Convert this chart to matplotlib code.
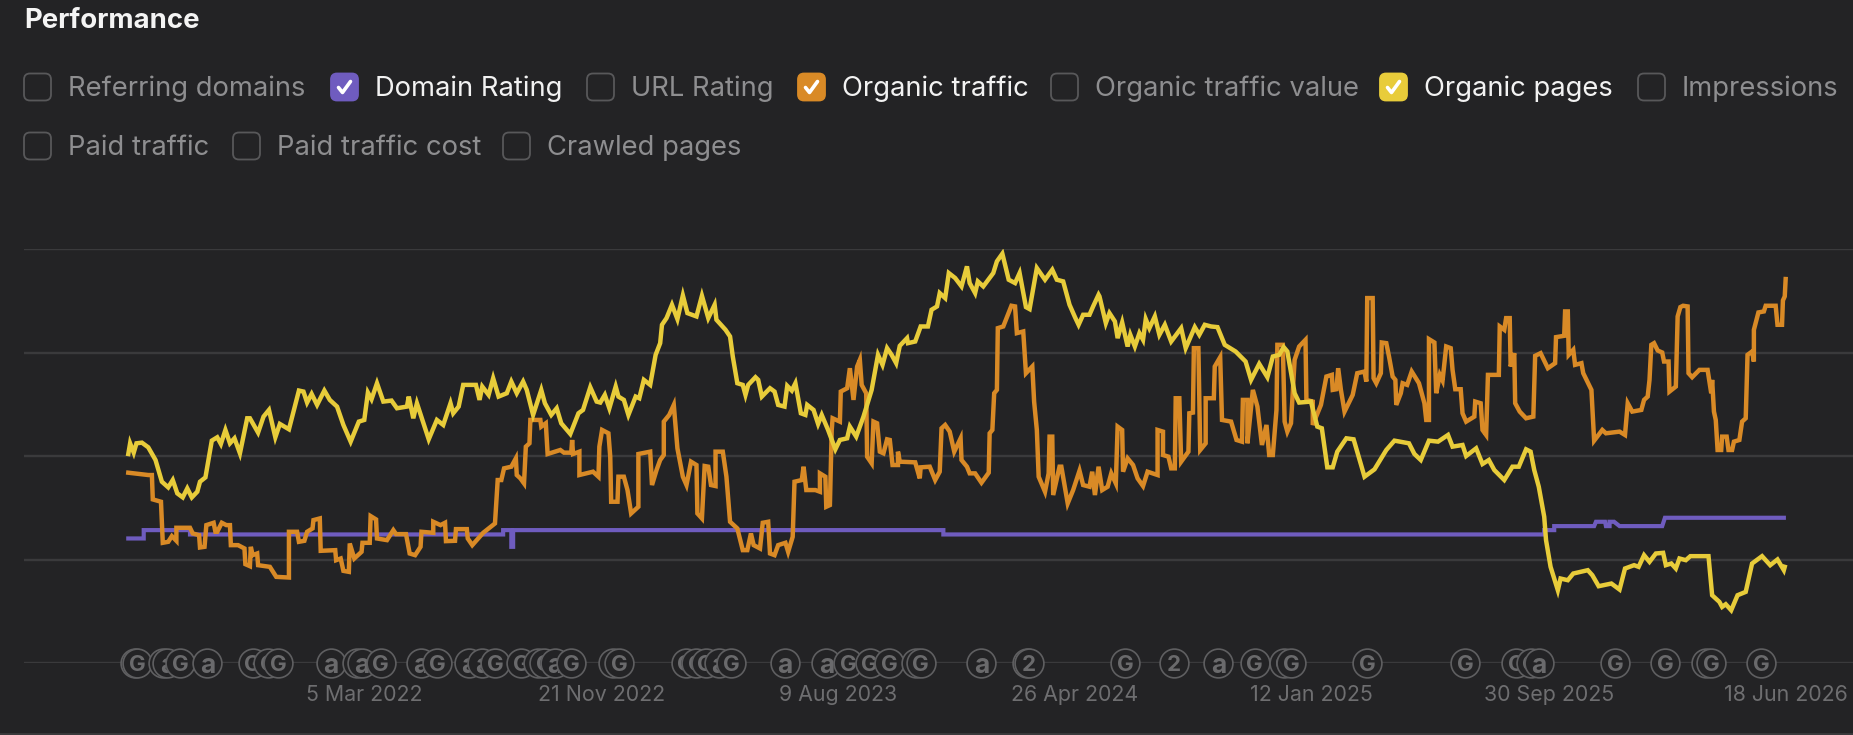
import matplotlib
matplotlib.use("Agg")
import matplotlib.pyplot as plt
import pandas as pd
from matplotlib.patches import FancyBboxPatch

plt.rcParams["font.family"] = ["Inter", "DejaVu Sans"]

BG = "#232325"
GRID = "#3a3a3c"
PURPLE = "#6f5cbf"
ORANGE = "#d98a26"
YELLOW = "#e8cc3a"

start_date = pd.Timestamp("2021-06-18")
tick_dates = ["2022-03-05", "2022-11-21", "2023-08-09", "2024-04-26", "2025-01-12", "2025-09-30", "2026-06-18"]
tick_labels = ["5 Mar 2022", "21 Nov 2022", "9 Aug 2023", "26 Apr 2024", "12 Jan 2025", "30 Sep 2025", "18 Jun 2026"]

# no y labels in the chart, so values are just relative units (310 = one gridline)
grid_values = [0, 310, 620, 930, 1240]

rating_days = [0, 17, 17, 68, 68, 413, 413, 422, 422, 424, 424, 898, 898, 1560, 1560, 1571, 1571, 1615, 1617, 1627,
               1628, 1632, 1632, 1637, 1643, 1690, 1693, 1824]
rating_vals = [373, 373, 398, 398, 385, 385, 398, 398, 348, 348, 398, 398, 385, 385, 398, 398, 410, 410, 423, 423,
               410, 410, 423, 423, 410, 410, 435, 435]

pages_days = [0, 2, 6, 9, 15, 22, 30, 37, 44, 49, 54, 60, 65, 70, 76, 79, 85, 92, 98, 102, 107, 112, 117, 123, 131,
              134, 143, 149, 155, 162, 167, 177, 182, 188, 193, 197, 202, 208, 216, 222, 230, 237, 245, 254, 260,
              264, 268, 274, 281, 290, 296, 307, 309, 314, 318, 331, 340, 347, 355, 358, 364, 369, 383, 387, 390,
              397, 402, 408, 417, 422, 428, 435, 439, 446, 455, 459, 466, 472, 477, 487, 496, 501, 509, 516,
              520, 525, 530, 537, 540, 546, 551, 559, 563, 568, 575, 581, 586, 588, 593, 599, 605, 611, 616, 626,
              632, 639, 646, 648, 658, 663, 666, 671, 677, 680, 683, 691, 694, 698, 707, 712, 716, 723, 726, 731,
              735, 741, 746, 748, 755, 760, 764, 771, 779, 784, 792, 795, 802, 810, 819, 826, 831, 836, 841, 846,
              850, 858, 859, 867, 873, 881, 885, 891, 894, 900, 904, 911, 918, 924, 927, 933, 936, 942, 953, 957,
              963, 970, 977, 982, 989, 993, 1001, 1010, 1018, 1023, 1030, 1037, 1043, 1047, 1052, 1059, 1063, 1069,
              1070, 1077, 1081, 1087, 1090, 1095, 1101, 1104, 1109, 1114, 1118, 1121, 1125, 1131, 1136, 1142, 1149,
              1160, 1165, 1175, 1180, 1186, 1193, 1200, 1208, 1220, 1231, 1237, 1246, 1255, 1261, 1268, 1273, 1277,
              1285, 1290, 1303, 1310, 1315, 1321, 1327, 1332, 1342, 1350, 1362, 1373, 1386, 1395, 1411, 1417, 1424,
              1433, 1443, 1454, 1459, 1470, 1474, 1485, 1492, 1499, 1505, 1516, 1525, 1532, 1540, 1545, 1549, 1554,
              1560, 1562, 1567, 1575, 1578, 1586, 1592, 1608, 1613, 1620, 1634, 1643, 1649, 1659, 1664, 1670, 1676,
              1683, 1691, 1694, 1700, 1705, 1709, 1716, 1721, 1741, 1745, 1753, 1756, 1760, 1766, 1773, 1782, 1789,
              1800, 1809, 1817, 1824, 1825]
pages_vals = [626, 658, 630, 658, 660, 646, 608, 543, 526, 548, 508, 496, 523, 496, 513, 543, 556, 666, 676, 656, 698,
              658, 673, 628, 733, 733, 690, 738, 758, 676, 716, 700, 753, 816, 813, 780, 806, 773, 816, 788, 768,
              713, 663, 723, 728, 810, 790, 838, 783, 786, 763, 768, 798, 733, 778, 670, 728, 713, 778, 748, 768,
              833, 833, 788, 828, 803, 853, 798, 808, 843, 808, 843, 818, 743, 818, 778, 743, 763, 718, 686, 748,
              758, 826, 783,
              780, 803, 763, 828, 798, 788, 743, 798, 793, 848, 833, 923, 958, 1013, 1033, 1073, 1030, 1101, 1048,
              1038, 1100, 1033, 1073, 1028, 998, 978, 918, 838, 833, 803, 833, 856, 848, 798, 823, 813, 773, 768,
              830, 816, 838, 748, 743, 773, 758, 716, 743, 698, 640, 668, 673, 708, 678, 738, 818, 923, 893, 943,
              923, 898, 950, 973, 958, 963, 1008, 1008, 1058, 1068, 1108, 1093, 1168, 1153, 1128, 1188, 1138, 1108,
              1143, 1128, 1168, 1203, 1226, 1148, 1138, 1168, 1066, 1060, 1183, 1148, 1178, 1148, 1143, 1073, 1036,
              1013, 1043, 1043, 1068, 1103,
              1098, 1018, 1048, 1023, 973, 1020, 948, 983, 948, 988, 968, 1030, 1003, 1038, 983, 1013, 963, 1003,
              943, 1006, 983, 1013, 1008, 1006, 953, 933, 903, 848, 896, 856, 918, 923, 946, 933, 808, 780, 783,
              708, 703, 586, 586, 633, 673, 670, 558, 580, 638, 666, 658, 626, 608, 666, 663, 683, 648, 653, 620,
              643, 596, 608, 578, 548, 588, 588, 640, 633, 578, 528,
              438, 368, 288, 218, 253, 248, 268, 278, 263, 230, 238, 220, 283, 293, 288, 323, 303, 328, 330, 293,
              298, 283, 313, 308, 320, 320, 203, 183, 168, 176, 158, 203, 213, 298, 320, 293, 310, 278, 288]

traffic_days = [0, 22, 26, 27, 36, 38, 44, 48, 53, 53, 68, 71, 78, 79, 84, 86, 94, 96, 98, 103, 108, 112, 113, 121, 128,
                129, 134, 135, 137, 142, 143, 156, 163, 177, 177, 186, 188, 194, 197, 203, 204, 211, 212, 228, 229,
                234, 237, 243, 244, 249, 257, 258, 266, 267, 273, 274, 285, 292, 295, 306, 310, 316, 322, 323, 336,
                336, 344, 349, 350, 360, 361, 373, 374, 379, 391, 404, 407, 411, 414, 422, 427, 428, 432, 436, 438,
                442, 443, 454, 455, 460, 462, 476, 480, 488, 489, 490, 497, 497, 512, 518, 519,
                522, 529, 531, 532, 539, 540, 546, 550, 554, 562, 562, 575, 577, 582, 586, 590, 590, 596, 601, 605,
                611, 615, 620, 626, 627, 632, 635, 639, 642, 647, 647, 655, 659, 663, 671, 677, 682, 686, 689, 696,
                699, 705, 707, 712, 716, 724, 727, 732, 734, 742, 744, 747, 757, 762, 762, 768, 769, 773, 775, 776,
                784, 785, 792, 795, 799, 803, 806, 808, 813, 814, 819, 821, 825, 828, 832, 836, 839, 842, 848, 848,
                850, 867, 872, 873, 883, 889, 894, 896, 900, 905, 910, 917, 918, 924, 927, 933, 940, 948, 949, 952,
                954, 957, 958, 964, 973, 977, 979, 986, 989, 996, 998, 1001, 1003, 1010, 1014, 1015, 1018, 1019,
                1026, 1028, 1035, 1041, 1048, 1052, 1059, 1062, 1065, 1069,
                1073, 1079, 1083, 1088, 1090, 1095, 1096, 1101, 1107, 1112, 1118, 1123, 1134, 1134, 1140, 1140, 1146,
                1149, 1153, 1154, 1158, 1160, 1168, 1169, 1173, 1174, 1179, 1181, 1187, 1187, 1196, 1197, 1203, 1205,
                1215, 1221, 1227, 1228, 1233, 1233, 1239, 1244, 1249, 1254, 1257, 1261, 1265, 1266, 1272, 1274, 1277,
                1281, 1285, 1290, 1297, 1298, 1305, 1305, 1314, 1320, 1326, 1327, 1331, 1333, 1336, 1340, 1349, 1354,
                1362, 1364, 1365, 1371, 1372, 1375, 1380, 1381, 1386, 1389, 1393, 1396, 1397, 1402, 1404, 1409, 1414,
                1422, 1428, 1430, 1433, 1433, 1439, 1441, 1445, 1448, 1452, 1457, 1459, 1462, 1468, 1470, 1474, 1483,
                1484, 1490, 1492, 1496, 1498, 1510, 1511, 1516, 1518, 1522, 1523, 1527, 1528, 1533, 1540, 1548, 1550,
                1556, 1564, 1572, 1573, 1582, 1583, 1586, 1587, 1592, 1594, 1601, 1603, 1612,
                1615, 1624, 1628, 1643, 1649, 1652, 1657, 1667, 1670, 1674, 1676, 1678, 1681, 1685, 1690, 1692, 1697,
                1698, 1705, 1707, 1710, 1713, 1718, 1719, 1723, 1731, 1740, 1744, 1745, 1747, 1749, 1751, 1755, 1756,
                1761, 1763, 1767, 1769, 1775, 1778, 1782, 1784, 1789, 1791, 1791, 1796, 1802, 1804, 1815, 1817, 1822,
                1823, 1825, 1826]
traffic_vals = [570, 563, 563, 490, 483, 360, 363, 380, 366, 405, 405, 388, 383, 346, 348, 413, 420, 393, 393, 420, 413,
                413, 353, 353, 343, 296, 290, 348, 323, 328, 293, 288, 258, 256, 393, 393, 363, 366, 393, 403, 428,
                433, 336, 338, 308, 313, 276, 273, 358, 313, 333, 360, 360, 440, 430, 373, 368, 398, 386, 386, 328,
                323, 348, 393, 390, 423, 413, 420, 365, 366, 401, 401, 373, 353, 390, 418, 548, 548, 583, 588, 613,
                563, 553, 538, 648, 658, 728, 728, 708, 718, 626, 638, 630, 630, 668, 626, 633, 563, 573, 558, 648,
                698, 688, 618, 483, 483, 558, 558, 518, 448, 468, 626, 633, 533, 578, 608, 623, 723, 743, 773, 643,
                558, 533, 603, 593, 448, 433, 590, 588, 533, 530, 633, 633, 558, 423, 403, 338, 338, 388, 353, 343,
                420, 423, 328, 323, 353, 360, 333, 378, 543, 548, 588, 518, 518, 513, 568, 558, 468, 473, 698, 733,
                723, 813, 823, 883, 788, 888, 908, 833, 808, 618, 598, 723, 718, 633, 628, 670, 668, 593, 593, 633,
                603, 601, 553, 586, 588, 548, 573, 703, 713, 693, 633, 673, 608, 588, 568, 568, 540, 570, 688, 698,
                808, 818, 1003, 1008, 1070, 1068, 988, 993, 868, 888, 783, 698, 558, 513, 568, 678, 678, 503,
                588, 588, 478, 518, 576, 533, 528, 573, 503, 588,
                518, 528, 568, 538, 708, 698, 573, 613, 593, 553, 530, 573, 563, 698, 693, 623, 618,
                583, 583, 793, 793, 603, 633, 748, 750, 943, 943, 638, 658, 793, 793, 888, 916, 728,
                723, 668, 663, 788, 788, 658, 818, 768, 653, 713, 623, 623, 758, 953, 953, 723, 693,
                718, 908, 948, 968, 788, 783, 713, 773, 858, 863, 818, 820, 883, 818, 753, 803, 868,
                873, 843, 1093, 1093, 853, 838, 868, 960, 958, 918, 858, 848, 773, 808, 838, 833, 873,
                838, 778, 728, 728, 970, 960, 808, 863, 846, 948, 943, 878, 820, 820, 748, 723, 738,
                783, 778, 698, 683, 863, 863, 1008, 998, 1033, 1033, 888, 928, 778, 753, 733, 738, 920,
                928, 883, 898, 976, 980, 1053, 1053, 923, 938, 893, 898, 868, 818,
                666, 698, 688, 693, 683, 778, 753, 758, 788, 798, 848, 953, 958, 936, 930, 903, 903,
                813, 828, 1038, 1066, 1070, 1068, 868, 856, 878, 878, 808, 848, 753, 728, 638, 638, 678,
                678, 638, 638, 663, 668, 723, 733, 923, 933, 903, 998, 1050, 1053, 1070, 1070, 1013, 1013,
                1086, 1098, 1150]

# annotation bubbles on the baseline
event_days = [7, 10, 38, 43, 57, 87, 137, 154, 165, 223, 252, 257, 278, 322, 340, 375, 390, 404, 433, 451, 458, 470,
              488, 534, 541, 614, 626, 636, 651, 664, 723, 769, 793, 817, 838, 868, 873, 940, 990, 992, 1098, 1152,
              1201, 1241, 1273, 1281, 1365, 1473, 1529, 1545, 1554, 1638, 1693, 1738, 1744, 1799]
event_kinds = ["G", "G", "a", "a", "G", "a", "G", "G", "G", "a", "G", "a", "G", "a", "G", "a", "a", "G", "G", "G", "G", "a",
               "G", "G", "G", "G", "G", "G", "a", "G", "a", "a", "G", "G", "G", "G", "G", "a", "2", "2", "G", "2",
               "a", "G", "G", "G", "G", "G", "G", "G", "a", "G", "G", "G", "G", "G"]

row1_names = ["Referring domains", "Domain Rating", "URL Rating", "Organic traffic", "Organic traffic value",
              "Organic pages", "Impressions"]
row2_names = ["Paid traffic", "Paid traffic cost", "Crawled pages"]
checked = {"Domain Rating": PURPLE, "Organic traffic": ORANGE, "Organic pages": YELLOW}

W, H = 1853, 735
fig = plt.figure(figsize=(W / 100, H / 100), dpi=100, facecolor=BG)

# header, drawn in pixel coordinates
top = fig.add_axes([0, 0, 1, 1])
top.set_xlim(0, W)
top.set_ylim(H, 0)
top.axis("off")
top.text(24, 21, "Performance", color="#f4f4f4", fontsize=19.8, fontweight="bold", va="center")


def checkbox(x, y, name):
    color = checked.get(name)
    box = FancyBboxPatch((x + 4, y - 9.5), 19, 19, boxstyle="round,pad=4,rounding_size=6",
                         facecolor=color if color else "none", edgecolor=color if color else "#58585a", linewidth=1.3)
    top.add_patch(box)
    if color:
        top.plot([x + 7.5, x + 11.5, x + 19.5], [y + 0.5, y + 5.5, y - 5.5], color="white", lw=2.6,
                 solid_capstyle="round", solid_joinstyle="round")
    top.text(x + 44, y + 1.5, name, color="#f2f2f2" if color else "#8e8e90", fontsize=19.7, va="center")


for x, name in zip([24, 331, 587, 798, 1051, 1380, 1638], row1_names):
    checkbox(x, 87, name)
for x, name in zip([24, 233, 503], row2_names):
    checkbox(x, 146, name)

top.plot([0, W], [734, 734], color="#3a3a3c", lw=2)

# chart area: 0.9077 px per day, first sample at x=128
ax = fig.add_axes([24 / W, (H - 663) / H, (W - 24) / W, (663 - 249) / H])
ax.set_facecolor("none")
ax.set_xlim(-114.9, 1900.2)
ax.set_ylim(0, 1240)
for spine in ax.spines.values():
    spine.set_visible(False)
ax.set_yticks(grid_values)
ax.set_yticklabels([])
ax.grid(axis="y", color=GRID, lw=1.7)
ax.set_axisbelow(True)
ax.tick_params(length=0)

tick_pos = [(pd.Timestamp(d) - start_date).days for d in tick_dates]
ax.set_xticks(tick_pos)
ax.set_xticklabels(tick_labels, color="#6e6e70", fontsize=15.4)
ax.tick_params(axis="x", pad=15.5)

ax.plot(rating_days, rating_vals, color=PURPLE, lw=3, zorder=3, solid_joinstyle="miter")
ax.plot(traffic_days, traffic_vals, color=ORANGE, lw=3.2, zorder=4, solid_joinstyle="miter")
ax.plot(pages_days, pages_vals, color=YELLOW, lw=3.2, zorder=5, solid_joinstyle="miter")

for i, (day, kind) in enumerate(zip(event_days, event_kinds)):
    ax.scatter([day], [0], s=430, facecolor=BG, edgecolor="#5f5f61", linewidth=1.2, zorder=6 + i * 0.01, clip_on=False)
    ax.text(day, 0, kind, color="#6a6a6c", fontsize=19 if kind == "a" else 16, fontweight="bold", ha="center",
            va="center_baseline", zorder=6 + i * 0.01 + 0.001, clip_on=False)

fig.savefig("out.png", dpi=100, facecolor=BG)
